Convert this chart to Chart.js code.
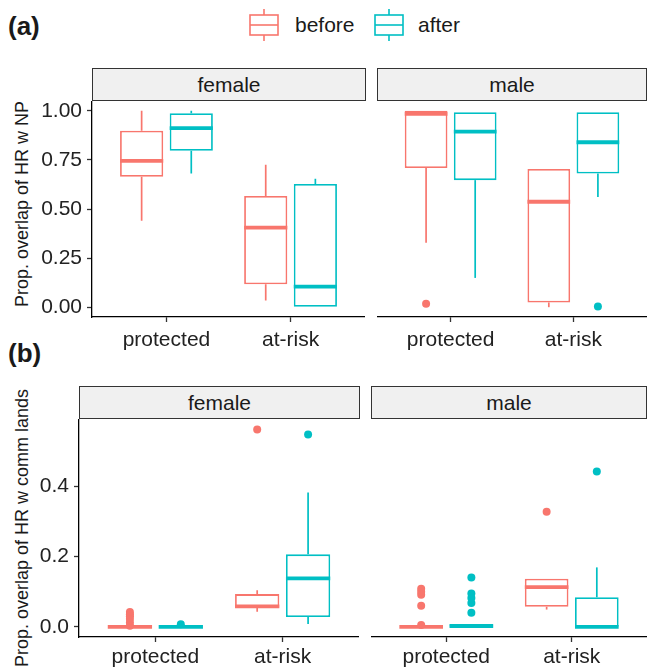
<!DOCTYPE html>
<html>
<head>
<meta charset="utf-8">
<script src="https://cdn.jsdelivr.net/npm/chart.js@4"></script>
<style>
  body { margin: 0; background: #fff; }
  #wrap { position: relative; width: 647px; height: 668px; overflow: hidden; font-family: "Liberation Sans", Arial, sans-serif; color: #1a1a1a; }
  canvas { position: absolute; }
  .strip { position: absolute; height: 33px; background: #f0f0f0; border: 1px solid #333; box-sizing: border-box; text-align: center; font-size: 21px; line-height: 31px; }
  .tag { position: absolute; left: 8px; font-weight: bold; font-size: 26px; line-height: 30px; }
  .lab { position: absolute; font-size: 21px; line-height: 24px; }
  .ytitle { position: absolute; font-size: 18px; white-space: nowrap; transform: translate(-50%, -50%) rotate(-90deg); }
  svg { position: absolute; }
</style>
</head>
<body>
<div id="wrap">
  <div class="tag" style="top:11px">(a)</div>
  <div class="tag" style="top:338px">(b)</div>

  <svg style="left:246px;top:6px" width="36" height="38">
    <line x1="18" y1="3" x2="18" y2="35" stroke="#F8766D" stroke-width="1.6"/>
    <rect x="4" y="9" width="28" height="20" fill="#fff" stroke="#F8766D" stroke-width="1.6"/>
    <line x1="4" y1="19" x2="32" y2="19" stroke="#F8766D" stroke-width="1.6"/>
  </svg>
  <div class="lab" style="left:295px;top:13px">before</div>
  <svg style="left:371px;top:6px" width="36" height="38">
    <line x1="18" y1="3" x2="18" y2="35" stroke="#00BFC4" stroke-width="1.6"/>
    <rect x="4" y="9" width="28" height="20" fill="#fff" stroke="#00BFC4" stroke-width="1.6"/>
    <line x1="4" y1="19" x2="32" y2="19" stroke="#00BFC4" stroke-width="1.6"/>
  </svg>
  <div class="lab" style="left:418px;top:13px">after</div>

  <div class="strip" style="left:92px;top:68px;width:274px">female</div>
  <div class="strip" style="left:377px;top:68px;width:270px">male</div>
  <div class="strip" style="left:79px;top:386px;width:281px">female</div>
  <div class="strip" style="left:371px;top:386px;width:276px">male</div>

  <div class="ytitle" style="left:22px;top:204px">Prop. overlap of HR w NP</div>
  <div class="ytitle" style="left:22px;top:528px">Prop. overlap of HR w comm lands</div>

  <canvas id="npFemale" width="365" height="256" style="left:0;top:101px"></canvas>
  <canvas id="npMale" width="270" height="256" style="left:377px;top:101px"></canvas>
  <canvas id="commFemale" width="359" height="249" style="left:0;top:419px"></canvas>
  <canvas id="commMale" width="276" height="249" style="left:371px;top:419px"></canvas>
</div>

<script>
const categories = ['protected', 'at-risk'];
const groups = ['before', 'after'];
const groupColors = ['#F8766D', '#00BFC4'];

const npTicks = [0, 0.25, 0.5, 0.75, 1];
const npTickLabels = ['0.00', '0.25', '0.50', '0.75', '1.00'];
const commTicks = [0, 0.2, 0.4];
const commTickLabels = ['0.0', '0.2', '0.4'];

// each box: [lower whisker, Q1, median, Q3, upper whisker], one per category
const npFemaleBefore = [[0.44, 0.664, 0.745, 0.899, 1.0], [0.034, 0.117, 0.405, 0.566, 0.725]];
const npFemaleAfter = [[0.681, 0.797, 0.912, 0.988, 1.0], [0.0, 0.0, 0.105, 0.627, 0.654]];
const npMaleBefore = [[0.328, 0.709, 0.985, 1.0, 1.0], [0.0, 0.024, 0.537, 0.704, 0.704]];
const npMaleAfter = [[0.149, 0.647, 0.894, 0.993, 0.993], [0.561, 0.681, 0.84, 0.993, 0.993]];

const commFemaleBefore = [[0, 0, 0, 0, 0], [0.043, 0.054, 0.058, 0.093, 0.104]];
const commFemaleAfter = [[0, 0, 0, 0, 0], [0.008, 0.028, 0.138, 0.206, 0.382]];
const commMaleBefore = [[0, 0, 0, 0, 0], [0.049, 0.057, 0.113, 0.137, 0.137]];
const commMaleAfter = [[0, 0, 0.002, 0.008, 0.008], [0, 0, 0, 0.084, 0.169]];

// outliers per category
const npFemaleBeforeOut = [[], []];
const npFemaleAfterOut = [[], []];
const npMaleBeforeOut = [[0.017], []];
const npMaleAfterOut = [[], [0.003]];

const commFemaleBeforeOut = [[0.042, 0.036, 0.03, 0.022, 0.012, 0.003], [0.561]];
const commFemaleAfterOut = [[0.007], [0.547]];
const commMaleBeforeOut = [[0.108, 0.1, 0.091, 0.06, 0.005], [0.327]];
const commMaleAfterOut = [[0.14, 0.095, 0.082, 0.068, 0.04], [0.442]];

// whiskers, medians and outliers drawn on top of the floating bars
const boxExtras = {
  id: 'boxExtras',
  afterDatasetsDraw(chart) {
    const ctx = chart.ctx;
    const y = chart.scales.y;
    chart.data.datasets.forEach((ds, d) => {
      chart.getDatasetMeta(d).data.forEach((bar, i) => {
        const s = ds.stats[i];
        const cx = bar.x, half = bar.width / 2;
        ctx.save();
        ctx.strokeStyle = ds.borderColor;
        ctx.lineWidth = 1.7;
        ctx.beginPath();
        ctx.moveTo(cx, y.getPixelForValue(s[3]));
        ctx.lineTo(cx, y.getPixelForValue(s[4]));
        ctx.moveTo(cx, y.getPixelForValue(s[1]));
        ctx.lineTo(cx, y.getPixelForValue(s[0]));
        ctx.stroke();
        ctx.lineWidth = 3.8;
        ctx.beginPath();
        ctx.moveTo(cx - half, y.getPixelForValue(s[2]));
        ctx.lineTo(cx + half, y.getPixelForValue(s[2]));
        ctx.stroke();
        ctx.fillStyle = ds.borderColor;
        ds.outliers[i].forEach(v => {
          ctx.beginPath();
          ctx.arc(cx, y.getPixelForValue(v), 4, 0, Math.PI * 2);
          ctx.fill();
        });
        ctx.restore();
      });
    });
  }
};

function makePanel(id, boxes, outs, yMin, yMax, ticks, tickLabels, showY, axisW, axisH, xPad) {
  const tickFont = { family: 'Liberation Sans', size: 21 };
  new Chart(document.getElementById(id), {
    type: 'bar',
    data: {
      datasets: groups.map((g, k) => ({
        label: g,
        data: boxes[k].map((s, i) => ({ x: i + 1, y: [s[1], s[3]] })),
        stats: boxes[k],
        outliers: outs[k],
        backgroundColor: '#ffffff',
        borderColor: groupColors[k],
        borderWidth: 1.8,
        borderSkipped: false,
        categoryPercentage: 0.8,
        barPercentage: 0.87
      }))
    },
    options: {
      responsive: false,
      animation: false,
      layout: { padding: 0 },
      plugins: { legend: { display: false }, tooltip: { enabled: false } },
      scales: {
        x: {
          type: 'linear', min: 0.4, max: 2.6, offset: false,
          afterBuildTicks: sc => { sc.ticks = categories.map((c, i) => ({ value: i + 1 })); },
          afterFit: sc => { sc.height = axisH; sc.paddingLeft = 0; sc.paddingRight = 0; },
          border: { display: true, color: '#000', width: 1.3 },
          grid: { drawOnChartArea: false, offset: false, tickLength: 5, tickColor: '#333', tickWidth: 1.3 },
          ticks: { color: '#222', font: tickFont, padding: xPad, maxRotation: 0, callback: (v, i) => categories[i] }
        },
        y: {
          display: showY, min: yMin, max: yMax,
          afterBuildTicks: sc => { sc.ticks = ticks.map(v => ({ value: v })); },
          afterFit: sc => { sc.width = axisW; sc.paddingTop = 0; sc.paddingBottom = 0; },
          border: { display: true, color: '#000', width: 1.3 },
          grid: { drawOnChartArea: false, tickLength: 5, tickColor: '#333', tickWidth: 1.3 },
          ticks: { color: '#222', font: tickFont, padding: 5, callback: (v, i) => tickLabels[i] }
        }
      }
    },
    plugins: [boxExtras]
  });
}

makePanel('npFemale', [npFemaleBefore, npFemaleAfter], [npFemaleBeforeOut, npFemaleAfterOut],
  -0.05, 1.05, npTicks, npTickLabels, true, 92, 40, 6);
makePanel('npMale', [npMaleBefore, npMaleAfter], [npMaleBeforeOut, npMaleAfterOut],
  -0.05, 1.05, npTicks, npTickLabels, false, 0, 40, 6);
makePanel('commFemale', [commFemaleBefore, commFemaleAfter], [commFemaleBeforeOut, commFemaleAfterOut],
  -0.029, 0.591, commTicks, commTickLabels, true, 79, 31, 3);
makePanel('commMale', [commMaleBefore, commMaleAfter], [commMaleBeforeOut, commMaleAfterOut],
  -0.029, 0.591, commTicks, commTickLabels, false, 0, 31, 3);
</script>
</body>
</html>
